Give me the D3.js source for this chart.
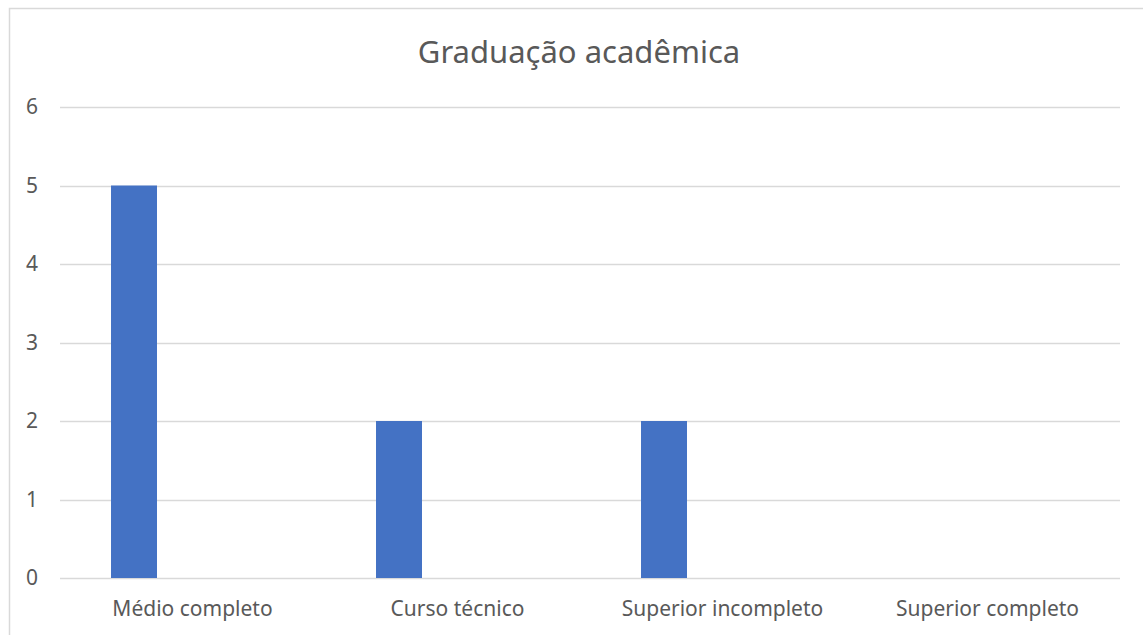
<!DOCTYPE html>
<html>
<head>
<meta charset="utf-8">
<script src="https://cdn.jsdelivr.net/npm/d3@7"></script>
<style>
  body { margin: 0; background: #fff; }
  text { font-family: "Noto Sans", "Open Sans", sans-serif; fill: #595959; }
</style>
</head>
<body>
<div id="chart"></div>
<script>
var categories = ["Médio completo", "Curso técnico", "Superior incompleto", "Superior completo"];
var seriesNames = ["Série 1", "Série 2"];
var serie1 = [5, 2, 2, 0];
var serie2 = [0, 0, 0, 0];
var yTicks = [0, 1, 2, 3, 4, 5, 6];
var chartTitle = "Graduação acadêmica";

var width = 1143, height = 635;
var plotLeft = 60, plotRight = 1120, plotTop = 107, plotBottom = 578;

var svg = d3.select("#chart").append("svg")
    .attr("width", width)
    .attr("height", height);

// frame of the chart area (runs off the right and bottom of the picture)
svg.append("rect")
    .attr("x", 9.5).attr("y", 8.5)
    .attr("width", 1160).attr("height", 660)
    .attr("fill", "#fff")
    .attr("stroke", "#d9d9d9")
    .attr("stroke-width", 1.5);

var x0 = d3.scaleBand().domain(categories).range([plotLeft, plotRight]).padding(0);
var x1 = d3.scaleBand().domain(seriesNames).range([0, x0.bandwidth()])
    .paddingInner(0.607).paddingOuter(0.436);
var y = d3.scaleLinear().domain([0, 6]).range([plotBottom, plotTop]);

// gridlines
svg.append("g")
    .selectAll("line")
    .data(yTicks)
    .enter()
    .append("line")
    .attr("x1", plotLeft).attr("x2", plotRight)
    .attr("y1", function(d){ return Math.round(y(d)) + 0.5 })
    .attr("y2", function(d){ return Math.round(y(d)) + 0.5 })
    .attr("stroke", "#d9d9d9")
    .attr("stroke-width", 1.5);

// bars
var rows = categories.map(function(c, i){
    return [{cat: c, s: seriesNames[0], v: serie1[i]}, {cat: c, s: seriesNames[1], v: serie2[i]}];
});
svg.append("g")
    .selectAll("g")
    .data(rows)
    .enter()
    .append("g")
    .selectAll("rect")
    .data(function(d){ return d.filter(function(e){ return e.v > 0 }) })
    .enter()
    .append("rect")
    .attr("x", function(d){ return x0(d.cat) + x1(d.s) })
    .attr("width", x1.bandwidth())
    .attr("y", function(d){ return y(d.v) })
    .attr("height", function(d){ return y(0) - y(d.v) })
    .attr("fill", "#4472c4");

// y axis labels
var yAxis = d3.axisLeft(y).tickValues(yTicks).tickFormat(d3.format("d")).tickSize(0).tickPadding(0);
var gy = svg.append("g").attr("transform", "translate(38,0)").call(yAxis);
gy.select(".domain").remove();
gy.selectAll("text").attr("font-size", 21).attr("font-family", "Noto Sans").attr("fill", "#595959");

// x axis labels
var xAxis = d3.axisBottom(x0).tickSize(0).tickPadding(0);
var gx = svg.append("g").attr("transform", "translate(0,601)").call(xAxis);
gx.select(".domain").remove();
gx.selectAll("text").attr("font-size", 21).attr("font-family", "Noto Sans").attr("fill", "#595959");

// title
svg.append("text")
    .attr("x", 579).attr("y", 63)
    .attr("text-anchor", "middle")
    .attr("font-size", 31)
    .text(chartTitle);
</script>
</body>
</html>
